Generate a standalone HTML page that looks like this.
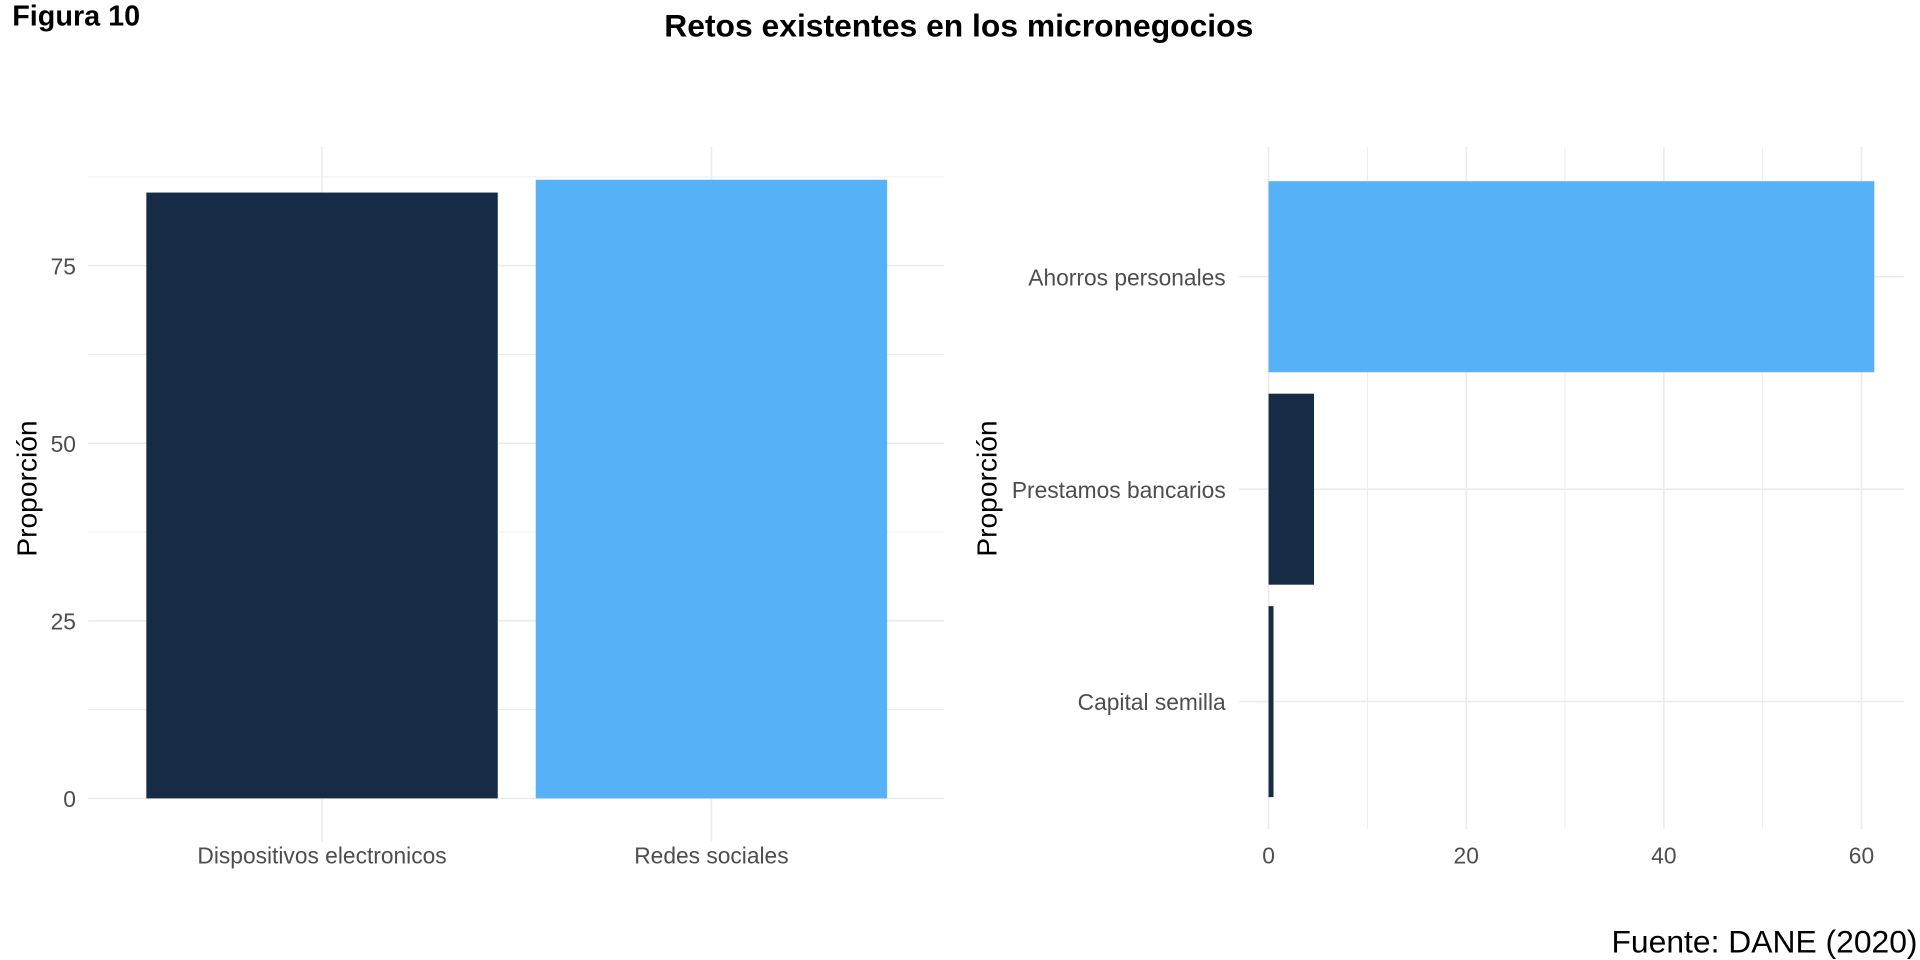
<!DOCTYPE html>
<html><head><meta charset="utf-8">
<style>
html,body{margin:0;padding:0;background:#fff;}
svg{display:block;font-family:"Liberation Sans",Arial,sans-serif;}
</style></head>
<body>
<svg id="chart" width="1920" height="960" viewBox="0 0 1568 784" preserveAspectRatio="none" xmlns="http://www.w3.org/2000/svg">
<text x="10" y="21" font-size="23.5" font-weight="bold" fill="#000">Figura 10</text>
<text x="783" y="30" font-size="26" font-weight="bold" text-anchor="middle" fill="#000">Retos existentes en los micronegocios</text>
<g id="left"></g>
<g id="right"></g>
<text transform="translate(30,399) rotate(-90)" font-size="23" text-anchor="middle" fill="#000">Proporción</text>
<text transform="translate(814,399) rotate(-90)" font-size="23" text-anchor="middle" fill="#000">Proporción</text>
<text x="1566" y="778" font-size="26" text-anchor="end" fill="#000">Fuente: DANE (2020)</text>
</svg>
<script>
const leftCategories = ["Dispositivos electronicos", "Redes sociales"];
const leftValues = [85.3, 87.1];
const leftTicks = [0, 25, 50, 75];
const rightCategories = ["Capital semilla", "Prestamos bancarios", "Ahorros personales"];
const rightValues = [0.5, 4.6, 61.3];
const rightTicks = [0, 20, 40, 60];

const NS = "http://www.w3.org/2000/svg";
function mk(parent, tag, attrs, text) {
  const e = document.createElementNS(NS, tag);
  for (const k in attrs) e.setAttribute(k, attrs[k]);
  if (text !== undefined) e.textContent = text;
  parent.appendChild(e);
  return e;
}
const DARK = "#162c45", LIGHT = "#56b1f7", GRID = "#ebebeb", TXT = "#4d4d4d";
const FS = 18.6;

// Left panel
const L = document.getElementById("left");
const lx0 = 72, lx1 = 771, ltop = 120, lbot = 687;
const ly = v => 652 - v * 5.8;
const lxc = i => 263 + i * 318;
for (let t = 12.5; t < 90; t += 25) {
  const g = mk(L, "line", {x1: lx0, x2: lx1, y1: ly(t), y2: ly(t), stroke: GRID, "stroke-width": 0.7});
  
  
}
leftTicks.forEach(t => {
  const g = mk(L, "line", {x1: lx0, x2: lx1, y1: ly(t), y2: ly(t), stroke: GRID, "stroke-width": 1.3});
  
  
  const tx = mk(L, "text", {x: 62, y: ly(t) + 7, "font-size": FS, fill: TXT, "text-anchor": "end"}, t);
  
  
});
leftCategories.forEach((c, i) => {
  const g = mk(L, "line", {x1: lxc(i), x2: lxc(i), y1: ltop, y2: lbot, stroke: GRID, "stroke-width": 1.3});
  
  
});
leftCategories.forEach((c, i) => {
  const w = 287;
  const r = mk(L, "rect", {x: lxc(i) - w / 2, y: ly(leftValues[i]), width: w, height: ly(0) - ly(leftValues[i]), fill: i === 0 ? DARK : LIGHT});
  
  
  const tx = mk(L, "text", {x: lxc(i), y: 705, "font-size": FS, fill: TXT, "text-anchor": "middle"}, c);
  
  
});

// Right panel
const R = document.getElementById("right");
const rx0 = 1012, rx1 = 1555, rtop = 120, rbot = 677;
const rx = v => 1036 + v * 8.07;
const ryc = i => 573 - i * 173.5;
for (let t = 10; t < 70; t += 20) {
  const g = mk(R, "line", {x1: rx(t), x2: rx(t), y1: rtop, y2: rbot, stroke: GRID, "stroke-width": 0.7});
  
  
}
rightTicks.forEach(t => {
  const g = mk(R, "line", {x1: rx(t), x2: rx(t), y1: rtop, y2: rbot, stroke: GRID, "stroke-width": 1.3});
  
  
  const tx = mk(R, "text", {x: rx(t), y: 705, "font-size": FS, fill: TXT, "text-anchor": "middle"}, t);
  
  
});
rightCategories.forEach((c, i) => {
  const g = mk(R, "line", {x1: rx0, x2: rx1, y1: ryc(i), y2: ryc(i), stroke: GRID, "stroke-width": 1.3});
  
  
});
const maxV = Math.max(...rightValues);
rightCategories.forEach((c, i) => {
  const h = 156;
  const r = mk(R, "rect", {x: rx(0), y: ryc(i) - h / 2, width: rx(rightValues[i]) - rx(0), height: h, fill: rightValues[i] === maxV ? LIGHT : DARK});
  
  
  const tx = mk(R, "text", {x: 1001, y: ryc(i) + 7, "font-size": FS, fill: TXT, "text-anchor": "end"}, c);
  
  
});
</script>
</body></html>
